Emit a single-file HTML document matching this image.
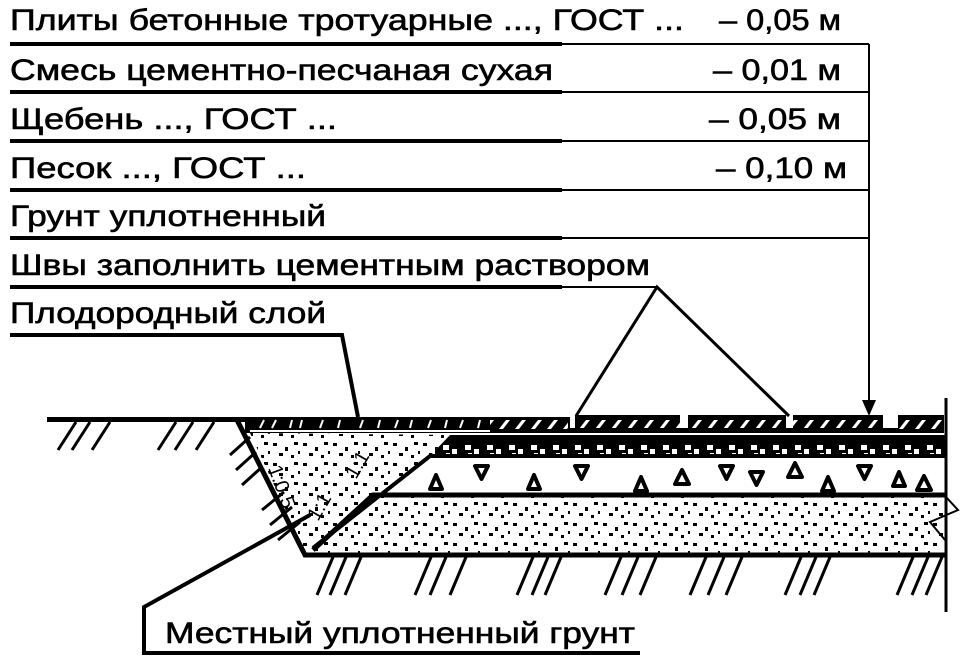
<!DOCTYPE html>
<html><head><meta charset="utf-8"><style>
html,body{margin:0;padding:0;background:#fff;}
svg{display:block;}
text{font-family:"Liberation Sans",sans-serif;font-size:30px;fill:#000;}
</style></head><body>
<svg width="975" height="661" viewBox="0 0 975 661" xmlns="http://www.w3.org/2000/svg">
<defs>
<pattern id="slash" width="16" height="16" patternUnits="userSpaceOnUse">
<rect width="16" height="16" fill="#000"/>
<path d="M3 13 L10 4 L14 4 L7 13 Z" fill="#fff"/>
</pattern>
<pattern id="blob" width="22" height="22" patternUnits="userSpaceOnUse">
<rect width="22" height="22" fill="#000"/>
<rect x="3" y="5" width="6" height="5" fill="#fff"/>
<rect x="12" y="9" width="5" height="6" fill="#fff"/>
<rect x="6" y="13" width="4" height="3" fill="#fff"/>
</pattern>
<pattern id="dots" width="30" height="20" patternUnits="userSpaceOnUse">
<rect x="3" y="3" width="4" height="3" fill="#000"/>
<rect x="15" y="7" width="3" height="4" fill="#000"/>
<rect x="24" y="2" width="4" height="3" fill="#000"/>
<rect x="9" y="13" width="4" height="3" fill="#000"/>
<rect x="21" y="15" width="3" height="3" fill="#000"/>
<rect x="28" y="11" width="2" height="3" fill="#000"/>
</pattern>
</defs>

<g stroke="#000" stroke-width="0.6">
<text x="10" y="30" textLength="674" lengthAdjust="spacingAndGlyphs">Плиты бетонные тротуарные ..., ГОСТ ...</text>
<text x="719" y="30" textLength="122" lengthAdjust="spacingAndGlyphs">– 0,05 м</text>
<text x="10" y="80" textLength="543" lengthAdjust="spacingAndGlyphs">Смесь цементно-песчаная сухая</text>
<text x="713" y="80" textLength="128" lengthAdjust="spacingAndGlyphs">– 0,01 м</text>
<text x="10" y="129" textLength="327" lengthAdjust="spacingAndGlyphs">Щебень ..., ГОСТ ...</text>
<text x="709" y="129" textLength="132" lengthAdjust="spacingAndGlyphs">– 0,05 м</text>
<text x="10" y="178" textLength="296" lengthAdjust="spacingAndGlyphs">Песок ..., ГОСТ ...</text>
<text x="716" y="178" textLength="131" lengthAdjust="spacingAndGlyphs">– 0,10 м</text>
<text x="10" y="226" textLength="316" lengthAdjust="spacingAndGlyphs">Грунт уплотненный</text>
<text x="10" y="275" textLength="640" lengthAdjust="spacingAndGlyphs">Швы заполнить цементным раствором</text>
<text x="10" y="323" textLength="316" lengthAdjust="spacingAndGlyphs">Плодородный слой</text>
<text x="165" y="643" textLength="470" lengthAdjust="spacingAndGlyphs">Местный уплотненный грунт</text>
</g>

<g stroke="#000" fill="none">
<g stroke-width="4">
<line x1="10" y1="44" x2="562" y2="44"/>
<line x1="10" y1="92" x2="562" y2="92"/>
<line x1="10" y1="141" x2="562" y2="141"/>
<line x1="10" y1="190" x2="562" y2="190"/>
<line x1="10" y1="238" x2="562" y2="238"/>
<line x1="10" y1="287" x2="562" y2="287"/>
<polyline points="10,335 342,335 358,417"/>
<polyline points="640,653 144,653 144,607 310,515"/>
</g>
<g stroke-width="2">
<line x1="562" y1="44" x2="869" y2="44"/>
<line x1="562" y1="92" x2="869" y2="92"/>
<line x1="562" y1="141" x2="869" y2="141"/>
<line x1="562" y1="190" x2="869" y2="190"/>
<line x1="562" y1="238" x2="869" y2="238"/>
<line x1="562" y1="287" x2="657" y2="287"/>
<line x1="869" y1="44" x2="869" y2="402"/>
</g>
<g stroke-width="3">
<polyline points="576,416 657,287 789,416"/>
</g>
</g>
<polygon points="862,400 876,400 869,416" fill="#000"/>

<rect x="47" y="417" width="200" height="5" fill="#000"/>
<rect x="245" y="417" width="325" height="16" fill="#000"/>
<g stroke="#fff" stroke-width="2">
<path d="M260 428 l4 -8 M272 428 l4 -8 M290 428 l2 -8 M300 428 l2 -8 M320 428 l3 -8 M338 428 l2 -8 M360 428 l3 -8 M378 428 l2 -8 M395 428 l3 -8 M410 428 l2 -8 M428 428 l3 -8 M445 428 l2 -8 M460 428 l3 -8 M478 428 l2 -8"/>
<line x1="250" y1="431" x2="490" y2="431"/>
</g>
<rect x="490" y="417" width="78" height="16" fill="url(#slash)"/>
<rect x="575" y="415" width="105" height="18" fill="url(#slash)"/>
<rect x="688" y="415" width="98" height="18" fill="url(#slash)"/>
<rect x="793" y="415" width="90" height="18" fill="url(#slash)"/>
<rect x="898" y="415" width="46" height="18" fill="url(#slash)"/>
<rect x="568" y="428" width="330" height="5" fill="#000"/>
<polygon points="450,435 945,435 945,456 430,456" fill="url(#blob)"/>
<polygon points="250,433 450,435 430,456 313,550 305,552" fill="url(#dots)"/>
<polyline points="945,456 430,456 313,548" stroke="#000" stroke-width="4" fill="none"/>
<g fill="none" stroke="#000" stroke-width="4" stroke-linejoin="round">
<path d="M430 489 l6 -14 l6 14 Z M475 466 l13 0 l-6.5 13 Z M528 489 l6 -14 l6 14 Z M575 466 l13 0 l-6.5 13 Z M635 491 l6 -14 l6 14 Z M675 484 l7 -14 l7 14 Z M720 466 l13 0 l-6.5 13 Z M750 472 l13 0 l-6.5 13 Z M788 477 l7 -14 l7 14 Z M822 491 l6 -14 l6 14 Z M858 466 l13 0 l-6.5 13 Z M893 486 l6 -14 l6 14 Z M917 490 l7 -14 l7 14 Z"/>
</g>
<polygon points="373,495 945,495 945,553 313,553" fill="url(#dots)"/>
<polyline points="945,495 373,495 313,550" stroke="#000" stroke-width="5" fill="none"/>
<polyline points="237,420 305,555 945,555" stroke="#000" stroke-width="5" fill="none"/>
<line x1="946" y1="398" x2="946" y2="612" stroke="#000" stroke-width="3"/>
<polyline points="946,497 958,510 930,522 945,540" stroke="#000" stroke-width="2" fill="none"/>
<text x="0" y="0" style="font-size:20px" transform="translate(268,468) rotate(70)">1:0,5</text>
<text x="0" y="0" style="font-size:20px" transform="translate(318,522) rotate(-60)">1:1</text>
<text x="0" y="0" style="font-size:20px" transform="translate(356,480) rotate(-60)">1:1</text>
<g stroke="#000" stroke-width="3">
<path d="M58 450 l18 -28 M72 450 l18 -28 M92 450 l18 -28 M158 450 l18 -28 M175 450 l18 -28 M196 450 l18 -28"/>
<path d="M230 455 l20 -18 M236 470 l20 -18 M242 485 l20 -18 M262 510 l22 -18 M270 525 l22 -18 M278 540 l22 -18"/>
<path d="M317 595 l16 -38 M330 595 l16 -38 M345 595 l16 -38 M415 595 l16 -38 M430 595 l16 -38 M450 595 l16 -38 M517 595 l16 -38 M532 595 l16 -38 M545 595 l16 -38 M605 595 l16 -38 M622 595 l16 -38 M640 595 l16 -38 M690 595 l16 -38 M708 595 l16 -38 M726 595 l16 -38 M785 595 l16 -38 M800 595 l16 -38 M814 595 l16 -38 M897 595 l16 -38 M912 595 l16 -38 M926 595 l16 -38"/>
</g>
</svg>
</body></html>
